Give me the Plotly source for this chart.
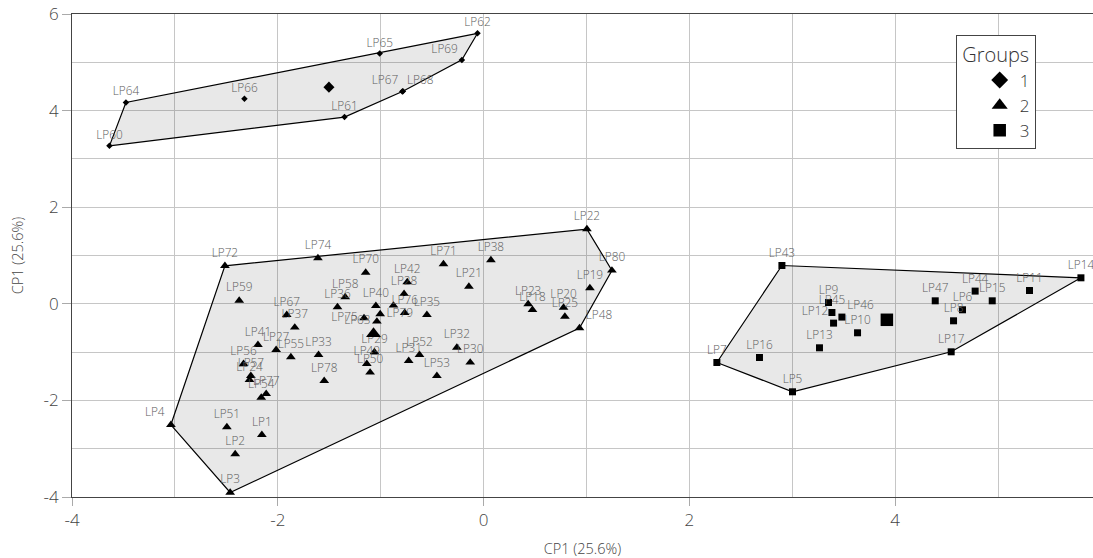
import plotly.graph_objects as go

# ---------------- data ----------------
g1_labels = ["LP62", "LP65", "LP69", "LP68", "LP67", "LP61", "LP66", "LP64", "LP60"]
g1_x = [-0.059, -1.010, -0.211, -0.784, -0.790, -1.352, -2.324, -3.476, -3.636]
g1_y = [5.600, 5.180, 5.050, 4.400, 4.395, 3.865, 4.244, 4.168, 3.270]

g2_labels = ["LP72", "LP74", "LP70", "LP59", "LP22", "LP80", "LP19", "LP48", "LP71", "LP38",
             "LP21", "LP23", "LP18", "LP20", "LP25", "LP42", "LP28", "LP58", "LP36", "LP40",
             "LP26", "LP76", "LP35", "LP79", "LP75", "LP63", "LP29", "LP49", "LP50", "LP52",
             "LP31", "LP32", "LP30", "LP53", "LP78", "LP33", "LP55", "LP37", "LP67", "LP41",
             "LP27", "LP56", "LP57", "LP24", "LP77", "LP54", "LP4", "LP51", "LP1", "LP2", "LP3"]
g2_x = [-2.514, -1.610, -1.146, -2.375, 1.004, 1.247, 1.033, 0.932, -0.390, 0.071,
        -0.143, 0.433, 0.475, 0.777, 0.790, -0.742, -0.773, -1.345, -1.420, -1.047,
        -0.876, -0.767, -0.551, -1.005, -1.162, -1.037, -1.061, -1.135, -1.103, -0.623,
        -0.728, -0.260, -0.130, -0.454, -1.549, -1.604, -1.873, -1.835, -1.913, -2.193,
        -2.016, -2.333, -2.262, -2.275, -2.113, -2.161, -3.039, -2.495, -2.155, -2.414, -2.463]
g2_y = [0.787, 0.946, 0.648, 0.068, 1.547, 0.690, 0.325, -0.503, 0.822, 0.905,
        0.358, -0.006, -0.124, -0.077, -0.263, 0.449, 0.207, 0.139, -0.068, -0.041,
        -0.035, -0.186, -0.228, -0.213, -0.296, -0.366, -1.000, -1.242, -1.422, -1.056,
        -1.180, -0.905, -1.215, -1.491, -1.594, -1.056, -1.104, -0.490, -0.228, -0.849,
        -0.952, -1.242, -1.491, -1.573, -1.863, -1.940, -2.505, -2.553, -2.712, -3.112, -3.907]

g3_labels = ["LP43", "LP14", "LP11", "LP44", "LP15", "LP47", "LP6", "LP8", "LP17", "LP5",
             "LP7", "LP16", "LP13", "LP10", "LP9", "LP45", "LP12", "LP46"]
g3_x = [2.899, 5.805, 5.305, 4.777, 4.943, 4.389, 4.654, 4.567, 4.544, 3.002,
        2.267, 2.681, 3.264, 3.634, 3.352, 3.385, 3.401, 3.482]
g3_y = [0.793, 0.538, 0.275, 0.263, 0.062, 0.062, -0.124, -0.352, -0.994, -1.822,
        -1.215, -1.112, -0.911, -0.600, 0.027, -0.180, -0.400, -0.275]

group_names = ["1", "2", "3"]
centroid_x = [-1.503, -1.070, 3.919]
centroid_y = [4.486, -0.621, -0.331]

x_ticks = [-4, -2, 0, 2, 4, 6]
y_ticks = [-4, -2, 0, 2, 4, 6]
axis_title = "CP1 (25.6%)"
legend_title = "Groups"

# ---------------- styles ----------------
FONT = "Open Sans"
WEIGHT = 300
symbols = ["diamond", "triangle-up", "square"]
point_sizes = [5, 8.5, 7]
centroid_sizes = [8.5, 13, 12.5]
legend_sizes = [13, 14, 12.5]
label_pos_override = {
    (0, "LP69"): "top left", (0, "LP67"): "top left", (0, "LP68"): "top right",
    (1, "LP75"): "middle left", (1, "LP79"): "middle right", (1, "LP63"): "middle left",
    (1, "LP4"): "top left", (1, "LP48"): "top right",
    (2, "LP12"): "top left", (2, "LP46"): "top right",
}
hidden_labels = {(1, "LP26")}


def convex_hull(xs, ys):
    pts = sorted(set(zip(xs, ys)))

    def cross(o, a, b):
        return (a[0] - o[0]) * (b[1] - o[1]) - (a[1] - o[1]) * (b[0] - o[0])

    lower, upper = [], []
    for p in pts:
        while len(lower) >= 2 and cross(lower[-2], lower[-1], p) <= 0:
            lower.pop()
        lower.append(p)
    for p in reversed(pts):
        while len(upper) >= 2 and cross(upper[-2], upper[-1], p) <= 0:
            upper.pop()
        upper.append(p)
    h = lower[:-1] + upper[:-1]
    h.append(h[0])
    return [p[0] for p in h], [p[1] for p in h]


groups = [(g1_labels, g1_x, g1_y), (g2_labels, g2_x, g2_y), (g3_labels, g3_x, g3_y)]

fig = go.Figure()

# hulls
for gi, (labs, xs, ys) in enumerate(groups):
    hx, hy = convex_hull(xs, ys)
    fig.add_trace(go.Scatter(
        x=hx, y=hy, mode="lines", fill="toself",
        fillcolor="rgba(0,0,0,0.09)", line=dict(color="black", width=1.2),
        showlegend=False, hoverinfo="skip"))

# points + labels
for gi, (labs, xs, ys) in enumerate(groups):
    texts = ["" if (gi, l) in hidden_labels else l for l in labs]
    pos = [label_pos_override.get((gi, l), "top center") for l in labs]
    fig.add_trace(go.Scatter(
        x=xs, y=ys, mode="markers+text", text=texts, textposition=pos,
        textfont=dict(family=FONT, size=11.8, color="#5c5c5c", weight=WEIGHT),
        marker=dict(symbol=symbols[gi], size=point_sizes[gi], color="black"),
        showlegend=False, cliponaxis=True))

# centroids
for gi in range(3):
    fig.add_trace(go.Scatter(
        x=[centroid_x[gi]], y=[centroid_y[gi]], mode="markers",
        marker=dict(symbol=symbols[gi], size=centroid_sizes[gi], color="black"),
        showlegend=False))

# legend entries
for gi in range(3):
    fig.add_trace(go.Scatter(
        x=[None], y=[None], mode="markers", name=group_names[gi],
        marker=dict(symbol=symbols[gi], size=legend_sizes[gi], color="black"),
        showlegend=True))

L, R, T, B = 72, 0, 13.5, 61.4
W, H = 1093, 558
px_per_unit = 102.9
x_max = -4 + (W - L - R) / px_per_unit
TXT = "#444444"

fig.update_layout(
    width=W, height=H,
    margin=dict(l=L, r=R, t=T, b=B),
    paper_bgcolor="white", plot_bgcolor="white",
    font=dict(family=FONT, color=TXT, weight=WEIGHT),
    xaxis=dict(
        range=[-4, x_max], tickvals=x_ticks, ticktext=[str(v) for v in x_ticks],
        showgrid=True, gridcolor="#c6c6c6", gridwidth=1,
        minor=dict(dtick=1, showgrid=True, gridcolor="#c6c6c6", gridwidth=1),
        zeroline=False, showline=True, linecolor=TXT, linewidth=1, mirror=True,
        ticks="outside", ticklen=8, tickcolor="#aaaaaa",
        tickfont=dict(size=17, color=TXT, family=FONT, weight=WEIGHT),
        title=dict(text=axis_title, font=dict(size=14.5, color=TXT, family=FONT, weight=WEIGHT), standoff=14),
        automargin=False),
    yaxis=dict(
        range=[-4, 6], tickvals=y_ticks, ticktext=[str(v) for v in y_ticks],
        showgrid=True, gridcolor="#c6c6c6", gridwidth=1,
        minor=dict(dtick=1, showgrid=True, gridcolor="#c6c6c6", gridwidth=1),
        zeroline=False, showline=True, linecolor=TXT, linewidth=1, mirror=False,
        ticks="outside", ticklen=9, tickcolor="#aaaaaa",
        tickfont=dict(size=17, color=TXT, family=FONT, weight=WEIGHT),
        title=dict(text=axis_title, font=dict(size=14.5, color=TXT, family=FONT, weight=WEIGHT), standoff=16),
        automargin=False),
    legend=dict(
        x=(955.7 - L) / (W - L - R), y=(H - B - 35) / (H - B - T),
        xanchor="left", yanchor="top",
        bgcolor="white", bordercolor=TXT, borderwidth=1,
        font=dict(size=17, family=FONT, color="#333333", weight=WEIGHT),
        title=dict(text=legend_title, side="top center",
                   font=dict(size=20, family=FONT, color="#333333", weight=WEIGHT)),
        indentation=23, tracegroupgap=0),
    annotations=[dict(
        text="6", xref="paper", yref="paper",
        x=(W - L - R + 8) / (W - L - R), y=0, yshift=-12,
        xanchor="center", yanchor="top", showarrow=False,
        font=dict(size=17, color=TXT, family=FONT, weight=WEIGHT))],
)

fig.write_html(
    "out.html",
    config={"displayModeBar": False},
    post_script="document.body.style.margin='0';document.body.style.overflow='hidden';",
)
